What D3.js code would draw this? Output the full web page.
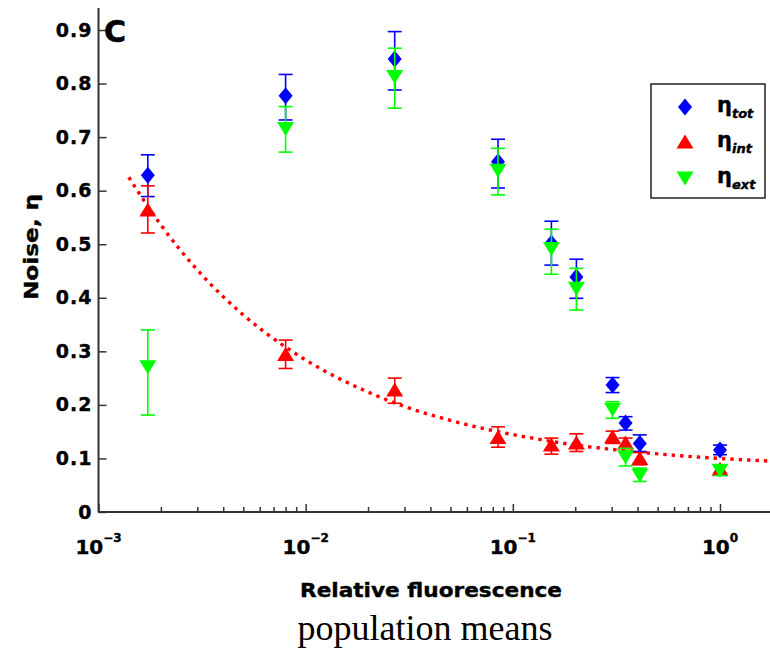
<!DOCTYPE html>
<html>
<head>
<meta charset="utf-8">
<script src="https://cdn.jsdelivr.net/npm/d3@7"></script>
<style>
  html, body { margin: 0; padding: 0; background: #fff; }
  svg { display: block; }
  .bold { font-family: "DejaVu Sans", sans-serif; font-weight: bold; }
</style>
</head>
<body>
<svg id="chart" width="770" height="652"></svg>
<script>
// ---------- data ----------
const fluorescence = [0.00173, 0.0080, 0.0269, 0.0848, 0.1535, 0.2027, 0.303, 0.350, 0.410, 1.0];

const totMean = [0.629, 0.777, 0.846, 0.654, 0.502, 0.439, 0.237, 0.166, 0.128, 0.116];
const totLo   = [0.589, 0.732, 0.788, 0.605, 0.461, 0.399, 0.223, 0.153, 0.113, 0.107];
const totHi   = [0.667, 0.817, 0.897, 0.696, 0.543, 0.472, 0.251, 0.178, 0.144, 0.125];

const intMean = [0.564, 0.294, 0.228, 0.139, 0.125, 0.129, 0.140, 0.129, 0.100, 0.080];
const intLo   = [0.521, 0.268, 0.203, 0.121, 0.108, 0.113, 0.128, 0.119, 0.088, 0.072];
const intHi   = [0.609, 0.321, 0.250, 0.159, 0.138, 0.146, 0.151, 0.138, 0.111, 0.088];

const extMean = [0.271, 0.716, 0.813, 0.638, 0.492, 0.418, 0.192, 0.103, 0.069, 0.078];
const extLo   = [0.181, 0.672, 0.754, 0.592, 0.444, 0.377, 0.175, 0.086, 0.057, 0.068];
const extHi   = [0.340, 0.757, 0.866, 0.679, 0.528, 0.455, 0.206, 0.119, 0.082, 0.088];

// dotted fit curve for intrinsic noise
const fitX = [0.0014, 0.002, 0.003, 0.005, 0.008, 0.012, 0.02, 0.03, 0.05, 0.08, 0.12, 0.2, 0.3, 0.5, 0.8, 1.0, 1.5, 2.0];
const fitY = [0.625, 0.536, 0.452, 0.368, 0.308, 0.266, 0.224, 0.197, 0.171, 0.152, 0.139, 0.125, 0.117, 0.1085, 0.1024, 0.100, 0.0963, 0.094];

const yTicks = [0, 0.1, 0.2, 0.3, 0.4, 0.5, 0.6, 0.7, 0.8, 0.9];
const yTickLabels = ["0", "0.1", "0.2", "0.3", "0.4", "0.5", "0.6", "0.7", "0.8", "0.9"];
const xTicks = [0.001, 0.01, 0.1, 1];
const xTickExponents = ["-3", "-2", "-1", "0"];

const seriesNames = ["tot", "int", "ext"];
const seriesColors = ["#0000ff", "#ff0000", "#00ff00"];

// ---------- scales ----------
const svg = d3.select("#chart");
const x = d3.scaleLog().domain([0.001, 1]).range([98.5, 720]);
const y = d3.scaleLinear().domain([0, 0.9]).range([512, 30]);
const axisColor = "#333";

// ---------- axes ----------
const yAxis = d3.axisLeft(y).tickValues(yTicks).tickSize(-8).tickFormat((d, i) => yTickLabels[i]).tickPadding(6);
const gy = svg.append("g").attr("transform", "translate(98.5,0)").call(yAxis);
gy.select(".domain").remove();
gy.selectAll(".tick line").attr("stroke", axisColor).attr("stroke-width", 1.5);
gy.selectAll(".tick text").attr("class", "bold").attr("font-size", 19).attr("letter-spacing", 1)
  .attr("fill", "#000").attr("stroke", "#000").attr("stroke-width", 0.4);
svg.append("line").attr("x1", 98.5).attr("x2", 98.5).attr("y1", 8).attr("y2", 512.5)
  .attr("stroke", axisColor).attr("stroke-width", 2);

// minor x ticks
const minor = [];
for (let e = -3; e <= 0; e++) for (let m = 2; m <= 9; m++) { const v = m * Math.pow(10, e); if (x(v) < 770) minor.push(v); }
const xMajor = d3.axisBottom(x).tickValues(xTicks).tickSize(-8).tickFormat("");
const xMinor = d3.axisBottom(x).tickValues(minor).tickSize(-5).tickFormat("");
const gxm = svg.append("g").attr("transform", "translate(0,512)").call(xMinor);
const gx = svg.append("g").attr("transform", "translate(0,512)").call(xMajor);
[gx, gxm].forEach(g => { g.select(".domain").remove(); g.selectAll(".tick line").attr("stroke", axisColor).attr("stroke-width", 1.5); });
svg.append("line").attr("x1", 98.5).attr("x2", 770).attr("y1", 512).attr("y2", 512)
  .attr("stroke", axisColor).attr("stroke-width", 2);

// x tick labels with superscripts
xTicks.forEach((v, i) => {
  const t = svg.append("text").attr("class", "bold").attr("x", x(v)).attr("y", 554)
    .attr("text-anchor", "middle").attr("font-size", 20).attr("fill", "#000")
    .attr("stroke", "#000").attr("stroke-width", 0.4);
  t.append("tspan").text("10");
  t.append("tspan").attr("dy", -12).attr("font-size", 12).text(xTickExponents[i].replace("-", "\u2212"));
});

// ---------- fit curve ----------
const clip = svg.append("clipPath").attr("id", "plotclip").append("rect")
  .attr("x", 99).attr("y", 0).attr("width", 680).attr("height", 512);
svg.append("path")
  .datum(fitX.map((d, i) => [d, fitY[i]]))
  .attr("clip-path", "url(#plotclip)")
  .attr("fill", "none").attr("stroke", "#ff0000").attr("stroke-width", 3.4)
  .attr("stroke-dasharray", "3.4,5")
  .attr("d", d3.line().x(d => x(d[0])).y(d => y(d[1])).curve(d3.curveMonotoneX));

// ---------- markers ----------
function markerPath(kind) {
  if (kind === "tot") return "M0,-8.5 L7,0 L0,8.5 L-7,0 Z";
  if (kind === "int") return "M0,-7.5 L8.5,6.5 L-8.5,6.5 Z";
  return "M-8.5,-6.5 L8.5,-6.5 L0,7.5 Z";
}
const series = [
  { name: "tot", mean: totMean, lo: totLo, hi: totHi, color: seriesColors[0] },
  { name: "int", mean: intMean, lo: intLo, hi: intHi, color: seriesColors[1] },
  { name: "ext", mean: extMean, lo: extLo, hi: extHi, color: seriesColors[2] }
];
series.forEach(s => {
  const g = svg.append("g");
  fluorescence.forEach((fx, i) => {
    const cx = x(fx);
    g.append("path").attr("d", markerPath(s.name)).attr("fill", s.color)
      .attr("transform", `translate(${cx},${y(s.mean[i])})`);
    g.append("line").attr("x1", cx).attr("x2", cx).attr("y1", y(s.lo[i])).attr("y2", y(s.hi[i]))
      .attr("stroke", s.color).attr("stroke-width", 1.6);
    [s.lo[i], s.hi[i]].forEach(v => {
      g.append("line").attr("x1", cx - 7).attr("x2", cx + 7).attr("y1", y(v)).attr("y2", y(v))
        .attr("stroke", s.color).attr("stroke-width", 1.6);
    });
  });
});

// ---------- panel letter ----------
svg.append("text").attr("class", "bold").attr("x", 104).attr("y", 42).attr("font-size", 30)
  .attr("stroke", "#000").attr("stroke-width", 0.6).text("C");

// ---------- legend ----------
svg.append("rect").attr("x", 651).attr("y", 84).attr("width", 114).attr("height", 114)
  .attr("fill", "#fff").attr("stroke", "#222").attr("stroke-width", 1.5);
const legY = [107, 142, 178];
series.forEach((s, i) => {
  svg.append("path").attr("d", markerPath(s.name)).attr("fill", s.color)
    .attr("transform", `translate(685,${legY[i]})`);
  const t = svg.append("text").attr("class", "bold").attr("x", 717).attr("y", legY[i] + 5)
    .attr("font-size", 21).attr("fill", "#000").attr("stroke", "#000").attr("stroke-width", 0.4);
  t.append("tspan").text("\u03b7");
  t.append("tspan").attr("dy", 6).attr("font-size", 13).attr("font-style", "italic").text(s.name);
});

// ---------- axis titles ----------
svg.append("text").attr("class", "bold").attr("x", 431).attr("y", 597).attr("text-anchor", "middle")
  .attr("font-size", 20).attr("textLength", 262).attr("lengthAdjust", "spacingAndGlyphs")
  .attr("stroke", "#000").attr("stroke-width", 0.4).text("Relative fluorescence");
svg.append("text").attr("class", "bold").attr("transform", "translate(38,247) rotate(-90)")
  .attr("text-anchor", "middle").attr("font-size", 20).attr("textLength", 106).attr("lengthAdjust", "spacingAndGlyphs")
  .attr("stroke", "#000").attr("stroke-width", 0.4).text("Noise, \u03b7");
svg.append("text").attr("x", 425).attr("y", 640).attr("text-anchor", "middle")
  .attr("font-family", "'Liberation Serif', 'Times New Roman', serif").attr("font-size", 36)
  .text("population means");
</script>
</body>
</html>
